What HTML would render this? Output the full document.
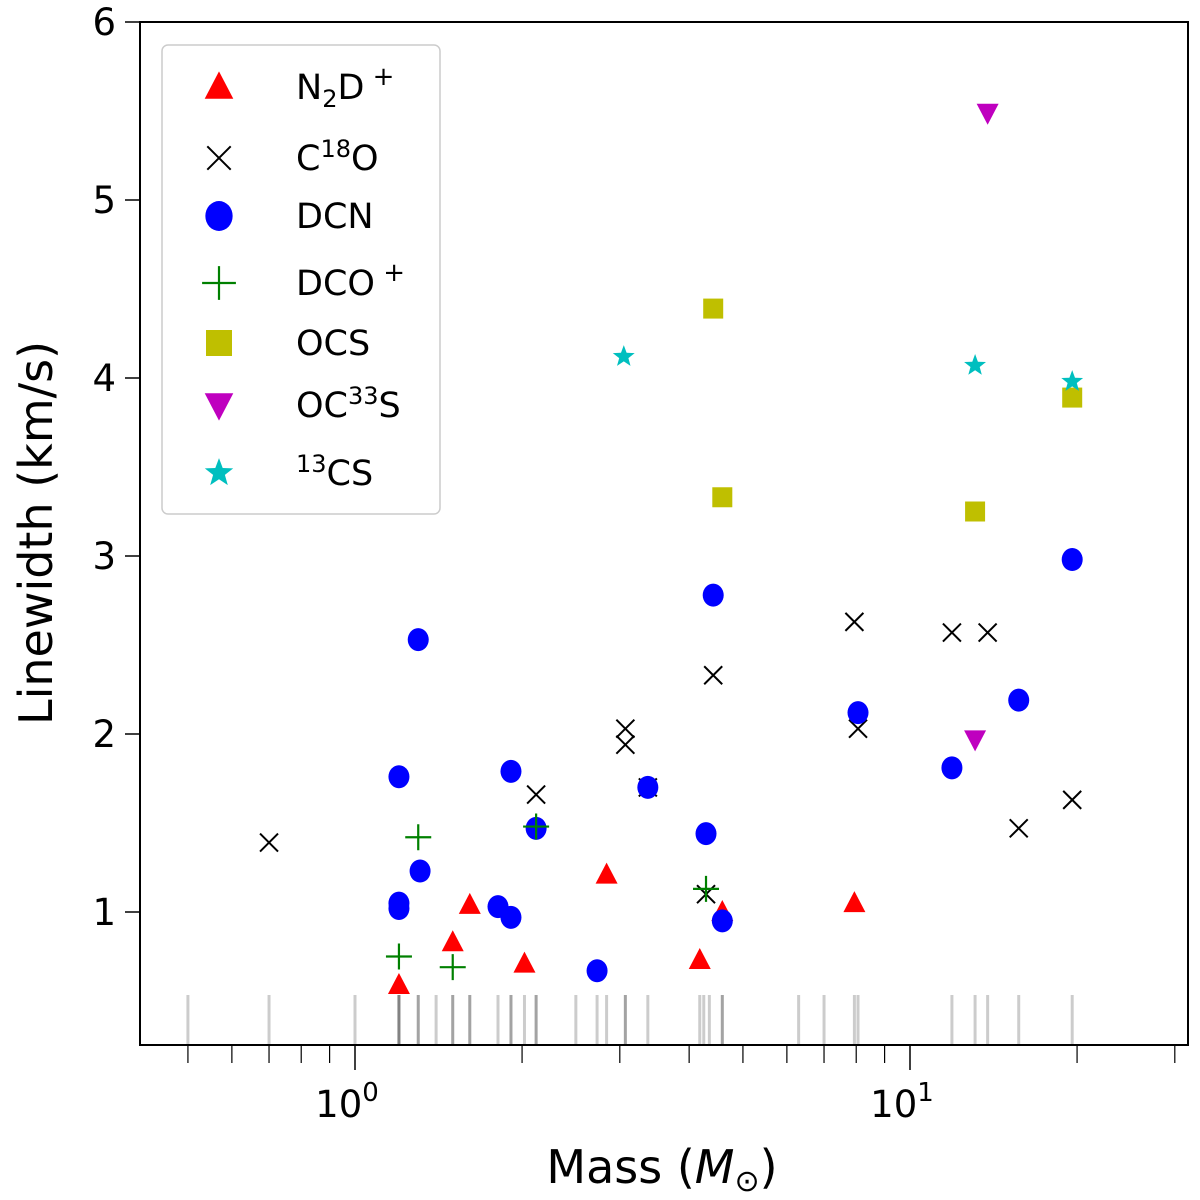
<!DOCTYPE html>
<html><head><meta charset="utf-8"><style>
html,body{margin:0;padding:0;background:#fff;}
svg{display:block;font-family:"DejaVu Sans","Liberation Sans",sans-serif;}
</style></head><body>
<svg id="chart" width="1200" height="1200" viewBox="0 0 1200 1200" xmlns="http://www.w3.org/2000/svg">
<g id="rug"></g>
<g id="points"></g>
<rect x="140" y="22" width="1048" height="1023" fill="none" stroke="#000" stroke-width="2"/>
<g id="axes"></g>
<text x="662" y="1183" font-size="46" text-anchor="middle">Mass (<tspan font-style="italic">M</tspan><tspan font-size="30" dy="8">⊙</tspan><tspan dy="-8">)</tspan></text>
<text transform="translate(52,533) rotate(-90)" font-size="46" text-anchor="middle">Linewidth (km/s)</text>
<g id="legend">
<rect x="162" y="45" width="278" height="469" rx="6" fill="#fff" fill-opacity="0.8" stroke="#ccc" stroke-width="1.5"/>
</g>
</svg>
<script>
const n2dMass=[1.20,1.50,1.61,2.02,2.84,4.18,4.59,7.94];
const n2dLw=[0.59,0.83,1.04,0.71,1.21,0.73,1.00,1.05];
const c18oMass=[0.70,2.12,3.07,3.07,4.42,3.37,4.29,7.94,8.06,11.9,13.8,15.7,19.6];
const c18oLw=[1.39,1.66,2.03,1.94,2.33,1.70,1.10,2.63,2.03,2.57,2.57,1.47,1.63];
const dcnMass=[1.30,1.20,1.31,1.20,1.20,1.81,1.91,1.91,2.12,2.73,3.37,4.29,4.42,4.59,8.06,11.9,15.7,19.6];
const dcnLw=[2.53,1.76,1.23,1.05,1.02,1.03,1.79,0.97,1.47,0.67,1.70,1.44,2.78,0.95,2.12,1.81,2.19,2.98];
const dcoMass=[1.30,1.20,1.50,2.12,4.29];
const dcoLw=[1.42,0.75,0.69,1.48,1.13];
const ocsMass=[4.42,4.59,13.1,19.6];
const ocsLw=[4.39,3.33,3.25,3.89];
const oc33sMass=[13.8,13.1];
const oc33sLw=[5.49,1.97];
const cs13Mass=[3.05,13.1,19.6];
const cs13Lw=[4.12,4.07,3.98];
const rugMass=[0.5,0.7,1.0,1.2,1.2,1.2,1.3,1.3,1.4,1.5,1.5,1.61,1.61,1.81,1.91,1.91,2.02,2.12,2.12,2.5,2.73,2.84,3.07,3.07,3.37,4.18,4.25,4.35,4.59,4.59,6.3,7.0,7.94,8.06,11.9,13.1,13.8,15.7,19.6];
const yTicks=[1,2,3,4,5,6];
const xMajor=[1,10];
const xMajorLabels=["0","1"];
const xMinor=[0.5,0.6,0.7,0.8,0.9,2,3,4,5,6,7,8,9,20,30];

const NS="http://www.w3.org/2000/svg";
function X(m){return 355+555*Math.log10(m);}
function Y(v){return 912-178*(v-1);}
function mk(tag,attrs,parent){const e=document.createElementNS(NS,tag);for(const k in attrs)e.setAttribute(k,attrs[k]);parent.appendChild(e);return e;}

function marker(type,cx,cy,parent,s){
  s=s||1;let e;
  if(type==='tri'){e=mk('polygon',{points:`${cx},${cy-12*s} ${cx-11*s},${cy+9*s} ${cx+11*s},${cy+9*s}`,fill:'#ff0000'},parent);}
  else if(type==='x'){e=mk('path',{d:`M${cx-9*s},${cy-9*s}L${cx+9*s},${cy+9*s}M${cx-9*s},${cy+9*s}L${cx+9*s},${cy-9*s}`,stroke:'#000','stroke-width':2,fill:'none'},parent);}
  else if(type==='circ'){e=mk('ellipse',{cx:cx,cy:cy,rx:10.5*s,ry:11.5*s,fill:'#0000ff'},parent);}
  else if(type==='plus'){e=mk('path',{d:`M${cx-13*s},${cy}L${cx+13*s},${cy}M${cx},${cy-13*s}L${cx},${cy+13*s}`,stroke:'#008000','stroke-width':2.2,fill:'none'},parent);}
  else if(type==='sq'){e=mk('rect',{x:cx-10*s,y:cy-10*s,width:20*s,height:20*s,fill:'#bfbf00'},parent);}
  else if(type==='vtri'){e=mk('polygon',{points:`${cx},${cy+12*s} ${cx-11*s},${cy-9*s} ${cx+11*s},${cy-9*s}`,fill:'#bf00bf'},parent);}
  else if(type==='star'){let p=[];for(let i=0;i<10;i++){const r=(i%2?4.8:11.5)*s;const a=-Math.PI/2+i*Math.PI/5;p.push((cx+r*Math.cos(a)).toFixed(1)+','+(cy+r*Math.sin(a)).toFixed(1));}e=mk('polygon',{points:p.join(' '),fill:'#00bfbf'},parent);}
  return e;
}

const rug=document.getElementById('rug');
rugMass.forEach(m=>{
  const l=mk('line',{x1:X(m),x2:X(m),y1:995,y2:1045,stroke:'#000','stroke-opacity':0.2,'stroke-width':3},rug);
  
  
});

const pts=document.getElementById('points');
const series=[['tri',n2dMass,n2dLw,'n2dp-point'],['x',c18oMass,c18oLw,'c18o-point'],['circ',dcnMass,dcnLw,'dcn-point'],['plus',dcoMass,dcoLw,'dcop-point'],['sq',ocsMass,ocsLw,'ocs-point'],['vtri',oc33sMass,oc33sLw,'oc33s-point'],['star',cs13Mass,cs13Lw,'13cs-point']];
series.forEach(s=>{
  s[1].forEach((m,i)=>{
    const e=marker(s[0],X(m),Y(s[2][i]),pts);
    
    
  });
});

const ax=document.getElementById('axes');
yTicks.forEach(v=>{
  const l=mk('line',{x1:125,x2:140,y1:Y(v),y2:Y(v),stroke:'#000','stroke-width':1.5},ax);
  
  
  const t=mk('text',{x:116,y:Y(v)+13,'font-size':37,'text-anchor':'end'},ax);
  t.textContent=v;
  
  
});
xMajor.forEach((m,i)=>{
  const l=mk('line',{x1:X(m),x2:X(m),y1:1045,y2:1070,stroke:'#000','stroke-width':1.5},ax);
  
  
  const t=mk('text',{x:X(m)-8,y:1117,'font-size':37,'text-anchor':'middle'},ax);
  t.textContent='10';
  const s=mk('tspan',{'font-size':26,dy:-16},t);
  s.textContent=xMajorLabels[i];
  
  
});
xMinor.forEach(m=>{
  const l=mk('line',{x1:X(m),x2:X(m),y1:1045,y2:1063,stroke:'#000','stroke-width':1.2},ax);
  
  
});

const lg=document.getElementById('legend');
const legendTypes=['tri','x','circ','plus','sq','vtri','star'];
const legendY=[87,158,216,283,343,405,473];
const legendLabels=['N<tspan font-size="24" dy="8">2</tspan><tspan dy="-8">D</tspan><tspan font-size="26" dy="-14"> +</tspan>','C<tspan font-size="24" dy="-13">18</tspan><tspan dy="13">O</tspan>','DCN','DCO<tspan font-size="26" dy="-14"> +</tspan>','OCS','OC<tspan font-size="24" dy="-13">33</tspan><tspan dy="13">S</tspan>','<tspan font-size="24" dy="-13">13</tspan><tspan dy="13">CS</tspan>'];
legendTypes.forEach((tp,i)=>{
  const m=marker(tp,219,legendY[i],lg,1.3);
  
  
  const t=mk('text',{x:296,y:legendY[i]+12,'font-size':35},lg);
  t.innerHTML=legendLabels[i];
  
  
});
</script>
</body></html>
